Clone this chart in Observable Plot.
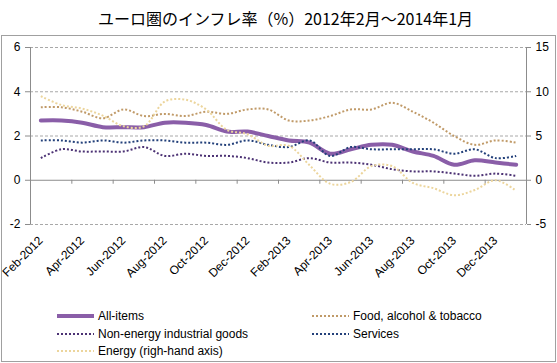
<!DOCTYPE html>
<html>
<head>
<meta charset="utf-8">
<script src="https://cdn.jsdelivr.net/npm/d3@7"></script>
<script src="https://cdn.jsdelivr.net/npm/@observablehq/plot@0.6"></script>
<style>
  html, body { margin: 0; padding: 0; background: #fff; }
  #wrap { position: relative; width: 557px; height: 363px; overflow: hidden; font-family: "Liberation Sans", Arial, sans-serif; }
  #title { position: absolute; left: 0; top: 6px; width: 571px; text-align: center; font-family: "Noto Sans CJK JP", sans-serif; font-size: 16px; line-height: 24px; color: #000; }
  #box { position: absolute; left: 1px; top: 35px; width: 555px; height: 327px; box-sizing: border-box; border: 1px solid #a0a0a0; }
  #chart { position: absolute; left: 0; top: 0; }
  .lg { position: absolute; font-size: 12px; line-height: 14px; color: #000; white-space: nowrap; display: flex; align-items: center; }
  .lg svg { margin-right: 4px; }
</style>
</head>
<body>
<div id="wrap">
  <div id="title">ユーロ圏のインフレ率（%）2012年2月～2014年1月</div>
  <div id="box"></div>
  <div id="chart"></div>
  <div id="legend"></div>
</div>
<script>
const months = ["Feb-2012","Mar-2012","Apr-2012","May-2012","Jun-2012","Jul-2012","Aug-2012","Sep-2012","Oct-2012","Nov-2012","Dec-2012","Jan-2013",
                "Feb-2013","Mar-2013","Apr-2013","May-2013","Jun-2013","Jul-2013","Aug-2013","Sep-2013","Oct-2013","Nov-2013","Dec-2013","Jan-2014"];
const allItems = [2.7,2.7,2.6,2.4,2.4,2.4,2.6,2.6,2.5,2.2,2.2,2.0,1.8,1.7,1.2,1.4,1.6,1.6,1.3,1.1,0.7,0.9,0.8,0.7];
const food     = [3.3,3.3,3.1,2.8,3.2,2.9,3.0,2.9,3.1,3.0,3.2,3.2,2.7,2.7,2.9,3.2,3.2,3.5,3.1,2.6,2.0,1.6,1.8,1.7];
const neig     = [1.0,1.4,1.3,1.3,1.3,1.5,1.1,1.2,1.1,1.1,1.0,0.8,0.8,1.0,0.8,0.8,0.7,0.5,0.4,0.4,0.3,0.2,0.3,0.2];
const services = [1.8,1.8,1.7,1.8,1.7,1.8,1.8,1.7,1.7,1.6,1.8,1.6,1.5,1.8,1.1,1.5,1.4,1.4,1.4,1.4,1.2,1.4,1.0,1.1];
const energy   = [9.5,8.5,8.1,7.3,6.1,6.1,8.9,9.1,8.0,5.7,5.2,3.9,3.9,1.7,-0.4,-0.2,1.6,1.6,-0.3,-0.9,-1.7,-1.1,0.0,-1.2];
const leftTicks = [-2,0,2,4,6];
const rightTicks = [-5,0,5,10,15];
const seriesNames = ["All-items","Food, alcohol & tobacco","Non-energy industrial goods","Services","Energy (righ-hand axis)"];

const ratio = 15 / 6; // right axis / left axis
const idx = months.map((m, i) => i);
const labelIdx = idx.filter(i => i % 2 === 0);
const boundaries = d3.range(0, 25, 2).map(i => i - 0.5);

const styles = {
  "All-items": {stroke: "#8a5ea8", strokeWidth: 4, dash: null},
  "Food, alcohol & tobacco": {stroke: "#c09a68", strokeWidth: 2, dash: "2,2"},
  "Non-energy industrial goods": {stroke: "#4c3274", strokeWidth: 2, dash: "2,2"},
  "Services": {stroke: "#23407a", strokeWidth: 2, dash: "2,2"},
  "Energy (righ-hand axis)": {stroke: "#ecd59c", strokeWidth: 2, dash: "2,2"}
};

const rows = [];
idx.forEach(i => {
  rows.push({s: seriesNames[0], i, v: allItems[i]});
  rows.push({s: seriesNames[1], i, v: food[i]});
  rows.push({s: seriesNames[2], i, v: neig[i]});
  rows.push({s: seriesNames[3], i, v: services[i]});
  rows.push({s: seriesNames[4], i, v: energy[i] / ratio});
});

function lineFor(name) {
  const st = styles[name];
  return Plot.line(rows.filter(r => r.s === name), {
    x: "i", y: "v", stroke: st.stroke, strokeWidth: st.strokeWidth,
    strokeDasharray: st.dash, curve: "catmull-rom", strokeLinecap: st.dash ? "butt" : "round", strokeLinejoin: "round"
  });
}

const chart = Plot.plot({
  width: 557, height: 300,
  marginLeft: 30, marginRight: 31, marginTop: 47, marginBottom: 76,
  x: {domain: [-0.5, 23.5], axis: null},
  y: {domain: [-2, 6], axis: null},
  style: {fontFamily: "'Liberation Sans', Arial, sans-serif", fontSize: "12px", background: "transparent", color: "#000", overflow: "visible"},
  marks: [
    Plot.ruleY(leftTicks.filter(d => d !== 0), {stroke: "#a8a8a8", strokeDasharray: "3,2"}),
    Plot.ruleY([0], {stroke: "#8c8c8c"}),
    Plot.ruleX([-0.5, 23.5], {stroke: "#8c8c8c"}),
    Plot.ruleX(boundaries, {y1: 0, y2: -0.18, stroke: "#8c8c8c"}),
    Plot.axisY({anchor: "left", ticks: leftTicks, tickSize: 5, tickPadding: 5, tickFormat: d => String(d), label: null, stroke: "#8c8c8c", fill: "#000"}),
    Plot.axisY({anchor: "right", ticks: rightTicks.map(d => d / ratio), tickSize: 4, tickPadding: 5, tickFormat: d => String(Math.round(d * ratio)), label: null, stroke: "#8c8c8c", fill: "#000"}),
    Plot.axisX({anchor: "bottom", ticks: labelIdx, tickFormat: i => months[i], tickRotate: -45, tickSize: 0, tickPadding: 14, label: null, fill: "#000"}),
    lineFor(seriesNames[0]),
    lineFor(seriesNames[1]),
    lineFor(seriesNames[2]),
    lineFor(seriesNames[3]),
    lineFor(seriesNames[4])
  ]
});
document.getElementById("chart").appendChild(chart);

// legend
const legendPos = [
  {name: seriesNames[0], x: 57, y: 316},
  {name: seriesNames[1], x: 312, y: 316},
  {name: seriesNames[2], x: 57, y: 334},
  {name: seriesNames[3], x: 312, y: 334},
  {name: seriesNames[4], x: 57, y: 351}
];
const lg = document.getElementById("legend");
legendPos.forEach(p => {
  const st = styles[p.name];
  const d = document.createElement("div");
  d.className = "lg";
  d.style.left = p.x + "px";
  d.style.top = (p.y - 7) + "px";
  d.innerHTML = `<svg width="37" height="6"><line x1="0" x2="37" y1="3" y2="3" stroke="${st.stroke}" stroke-width="${st.strokeWidth}" ${st.dash ? `stroke-dasharray="${st.dash}"` : ""}/></svg>`;
  const t = document.createElement("span");
  t.textContent = p.name;
  d.appendChild(t);
  lg.appendChild(d);
});
</script>
</body>
</html>
